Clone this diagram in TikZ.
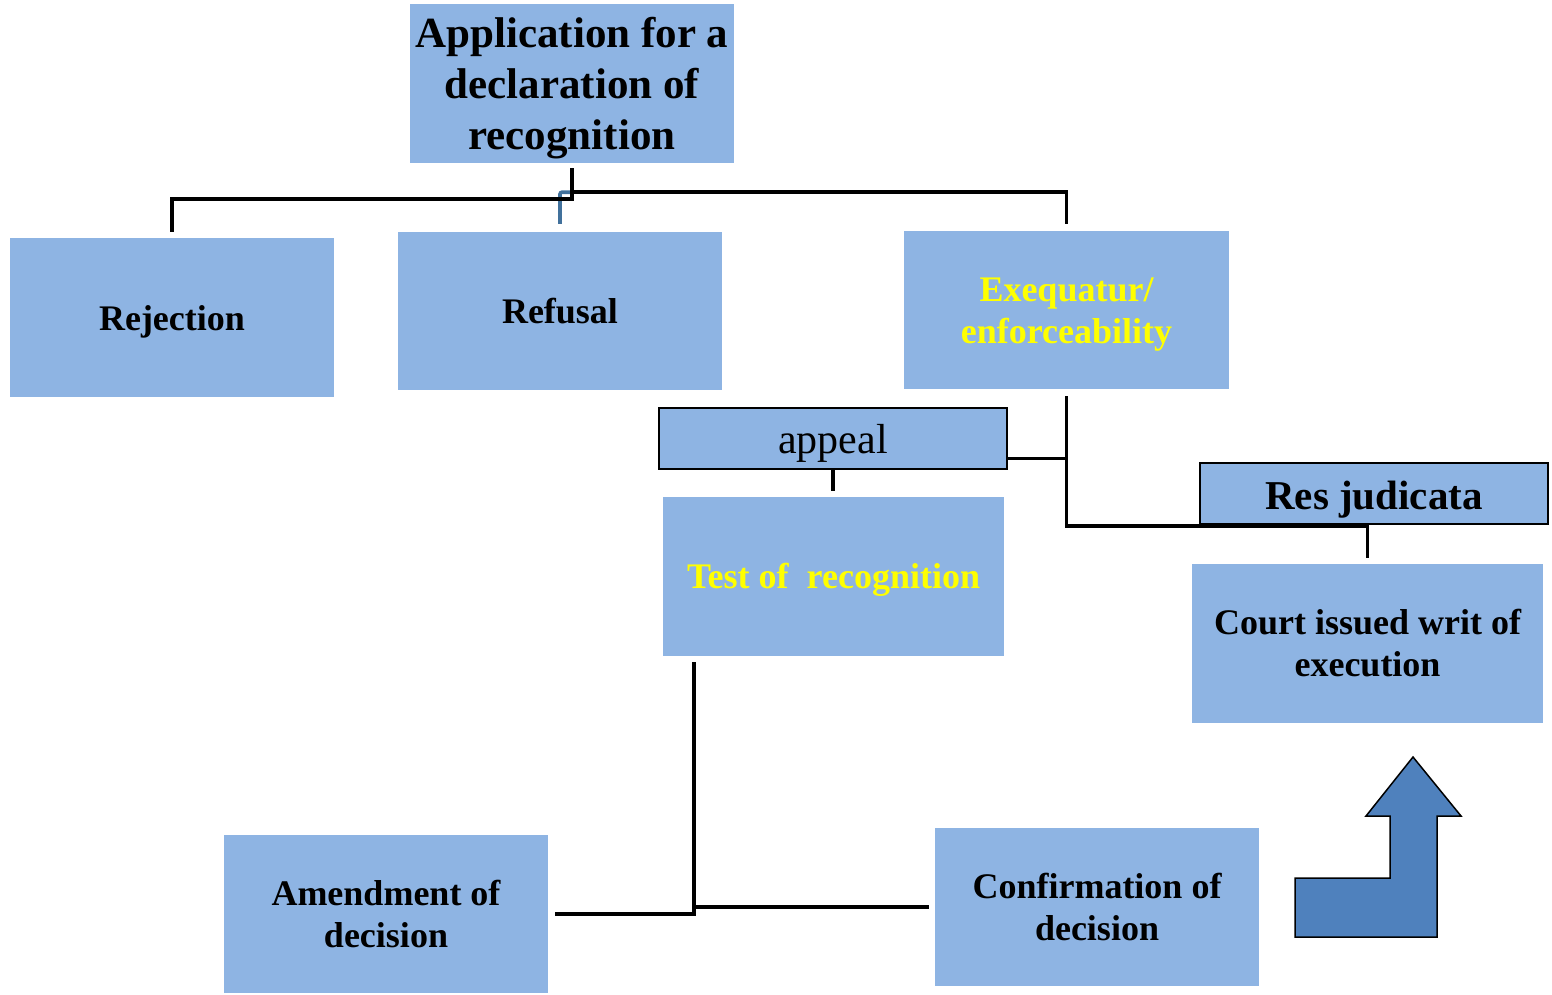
\documentclass[tikz,border=0pt]{standalone}
\usepackage{fontspec}
\setmainfont{Liberation Serif}
\definecolor{boxblue}{HTML}{8EB4E3}
\definecolor{linkblue}{HTML}{41719C}
\definecolor{arrowblue}{HTML}{4F81BD}
\definecolor{labelyellow}{HTML}{FFFF00}
\begin{document}
\begin{tikzpicture}[x=1pt,y=-1pt,
  box/.style={fill=boxblue, draw=none, inner sep=0pt},
  tag/.style={box, draw=black, line width=1.5pt},
  lbl/.style={align=center, inner sep=0pt,
    font=\bfseries\fontsize{36}{42}\selectfont},
  link/.style={draw=black, line width=3.6pt},
  yellowtext/.style={text=labelyellow}
]
\useasboundingbox (0,0) rectangle (1552,994);

% boxes
\node[box, minimum width=324pt, minimum height=159pt] (app) at (572,83.5) {};
\node[box, minimum width=324pt, minimum height=159pt] (rej) at (172,317.5) {};
\node[box, minimum width=324pt, minimum height=158pt] (ref) at (560,311) {};
\node[box, minimum width=325pt, minimum height=158pt] (exq) at (1066.5,310) {};
\node[tag, minimum width=348pt, minimum height=61pt] (appeal) at (833,438.5) {};
\node[box, minimum width=341pt, minimum height=159pt] (test) at (833.5,576.5) {};
\node[tag, minimum width=348pt, minimum height=61pt] (res) at (1374,493.5) {};
\node[box, minimum width=351pt, minimum height=159pt] (court) at (1367.5,643.5) {};
\node[box, minimum width=324pt, minimum height=158pt] (amend) at (386,914) {};
\node[box, minimum width=324pt, minimum height=158pt] (conf) at (1097,907) {};

% box texts
\node[lbl, font=\bfseries\fontsize{43}{51}\selectfont] (app-t) at ([yshift=-5pt]app.center)
  {Application for a\\declaration of\\recognition};
\node[lbl] (rej-t) at ([yshift=-4pt]rej.center) {Rejection};
\node[lbl] (ref-t) at (ref.center) {Refusal};
\node[lbl, yellowtext] (exq-t) at ([yshift=-5pt]exq.center) {Exequatur/\\enforceability};
\node[lbl, font=\fontsize{42}{48}\selectfont] (appeal-t) at ([yshift=-5pt]appeal.center) {appeal};
\node[lbl, yellowtext] (test-t) at ([yshift=-3pt]test.center) {Test of\ \ recognition};
\node[lbl, font=\bfseries\fontsize{41}{48}\selectfont] (res-t) at ([yshift=-6pt]res.center) {Res judicata};
\node[lbl] (court-t) at (court.center) {Court issued writ of\\execution};
\node[lbl] (amend-t) at (amend.center) {Amendment of\\decision};
\node[lbl] (conf-t) at (conf.center) {Confirmation of\\decision};

% connectors from the application
\draw[draw=linkblue, line width=3.6pt, rounded corners=2pt]
  ([yshift=8pt]ref.north) |- ([yshift=-29pt]app.south);
\draw[link] ([yshift=-5pt]app.south) -- ++(0,31) -| ([yshift=6pt]rej.north);
\draw[link] ([yshift=-29pt]app.south) -| ([yshift=7pt]exq.north);

% exequatur branch
\draw[link] ([yshift=-7pt]exq.south) |- ([yshift=38pt]court.north)
  -- ([yshift=6pt]court.north);
\draw[link] ([yshift=-20pt]appeal.east) -- ([yshift=-20pt]appeal.east -| exq.south);
\draw[link] (appeal.south) -- ([yshift=6pt]appeal.south |- test.north);

% outcomes of the test
\coordinate (split) at ([xshift=31pt,yshift=-6pt]test.south west);
\draw[link] (split) -- (split |- amend.east) -- ([xshift=7pt]amend.east);
\draw[link] (split |- conf.west) -- ([xshift=-6pt]conf.west);

% bent-up arrow
\draw[fill=arrowblue, draw=black, line width=1.5pt]
  (1295,878) -- (1390,878) -- (1390,816) -- (1366,816) -- (1413,757)
  -- (1461,816) -- (1437,816) -- (1437,937) -- (1295,937) -- cycle;
\end{tikzpicture}
\end{document}
